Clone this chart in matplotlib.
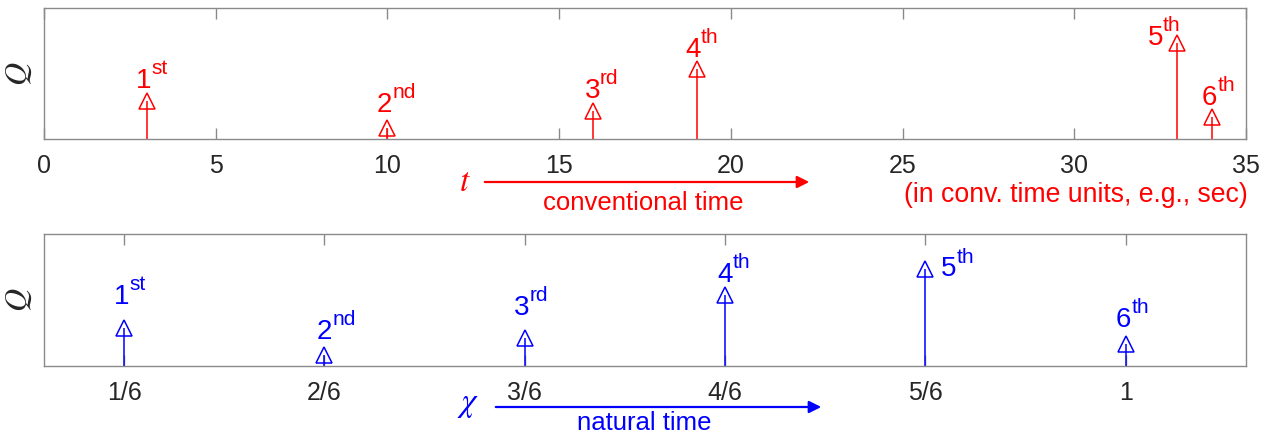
import numpy as np
import matplotlib
matplotlib.use("Agg")
import matplotlib.pyplot as plt
from matplotlib.patches import FancyArrowPatch

plt.rcParams['font.family'] = ['Liberation Sans', 'DejaVu Sans']

# event times (conventional) and their energies Q
t_events = [3, 10, 16, 19, 33, 34]
q_events = [0.29, 0.085, 0.21, 0.535, 0.735, 0.17]
ordinals = ['1', '2', '3', '4', '5', '6']
suffixes = ['st', 'nd', 'rd', 'th', 'th', 'th']

# natural time chi_k = k/N
n_events = len(t_events)
chi_events = [(k + 1) / n_events for k in range(n_events)]
chi_ticklabels = ['1/6', '2/6', '3/6', '4/6', '5/6', '1']

# label offsets (points) from each marker
top_offsets = [(-7.7, 9.4), (-7.5, 11.5), (-6.5, 9.7), (-8, 8.6), (-21.5, -1.8), (-7, 8.3)]
bot_offsets = [(-7.7, 17.3), (-5.5, 11.5), (-8, 16.6), (-5.5, 9.4), (11, -5.4), (-7, 12.2)]

W, H = 1268, 436
fig = plt.figure(figsize=(W / 100, H / 100), dpi=100)
ax1 = fig.add_axes([44 / W, 1 - 139 / H, 1202 / W, 131 / H])
ax2 = fig.add_axes([44 / W, 1 - 366 / H, 1202 / W, 132 / H])

edge = '#8a8a8a'
tick_txt = '#262626'


def stem_panel(ax, xs, qs, color, offsets):
    ax.vlines(xs, 0, qs, color=color, lw=1.1)
    ax.plot(xs, qs, '^', ms=11, mfc='none', mec=color, mew=1.1, clip_on=False)
    for x, q, num, suf, (dx, dy) in zip(xs, qs, ordinals, suffixes, offsets):
        ax.annotate(num, (x, q), xytext=(dx, dy), textcoords='offset points',
                    ha='left', va='baseline', color=color, fontsize=20)
        ax.annotate(suf, (x, q), xytext=(dx + 11.2, dy + 10), textcoords='offset points',
                    ha='left', va='baseline', color=color, fontsize=15)
    ax.set_ylim(0, 1)
    ax.set_yticks([])
    ax.set_ylabel('$Q$', fontsize=23, math_fontfamily='stix', color=tick_txt)
    ax.yaxis.set_label_coords(-0.008, 0.5)
    for s in ax.spines.values():
        s.set_color(edge)
        s.set_linewidth(1.0)
    ax.tick_params(axis='x', direction='in', top=True, length=8, width=1.0,
                   color=edge, labelcolor=tick_txt, labelsize=18, pad=11)


stem_panel(ax1, t_events, q_events, 'red', top_offsets)
ax1.set_xlim(0, 35)
ax1.set_xticks(np.arange(0, 36, 5))

stem_panel(ax2, chi_events, q_events, 'blue', bot_offsets)
ax2.set_xlim(0.1, 1.1)
ax2.set_xticks(chi_events)
ax2.set_xticklabels(chi_ticklabels)

# axis captions with arrows
arrow_kw = dict(arrowstyle='-|>', mutation_scale=18, lw=1.6)
fig.text(465 / W, 1 - 182 / H, '$t$', math_fontfamily='stix', color='red',
         fontsize=24, ha='center', va='center')
fig.add_artist(FancyArrowPatch((482 / W, 1 - 182 / H), (812 / W, 1 - 182 / H),
                               transform=fig.transFigure, color='red', **arrow_kw))
fig.text(643 / W, 1 - 203 / H, 'conventional time', color='red', fontsize=18.5,
         ha='center', va='center')
fig.text(1248 / W, 1 - 195 / H, '(in conv. time units, e.g., sec)', color='red',
         fontsize=19.2, ha='right', va='center')

fig.text(468 / W, 1 - 404 / H, '$\\chi$', math_fontfamily='stix', color='blue',
         fontsize=24, ha='center', va='center')
fig.add_artist(FancyArrowPatch((493 / W, 1 - 407 / H), (824 / W, 1 - 407 / H),
                               transform=fig.transFigure, color='blue', **arrow_kw))
fig.text(644 / W, 1 - 423 / H, 'natural time', color='blue', fontsize=18.5,
         ha='center', va='center')

fig.savefig('out.png', dpi=100)
